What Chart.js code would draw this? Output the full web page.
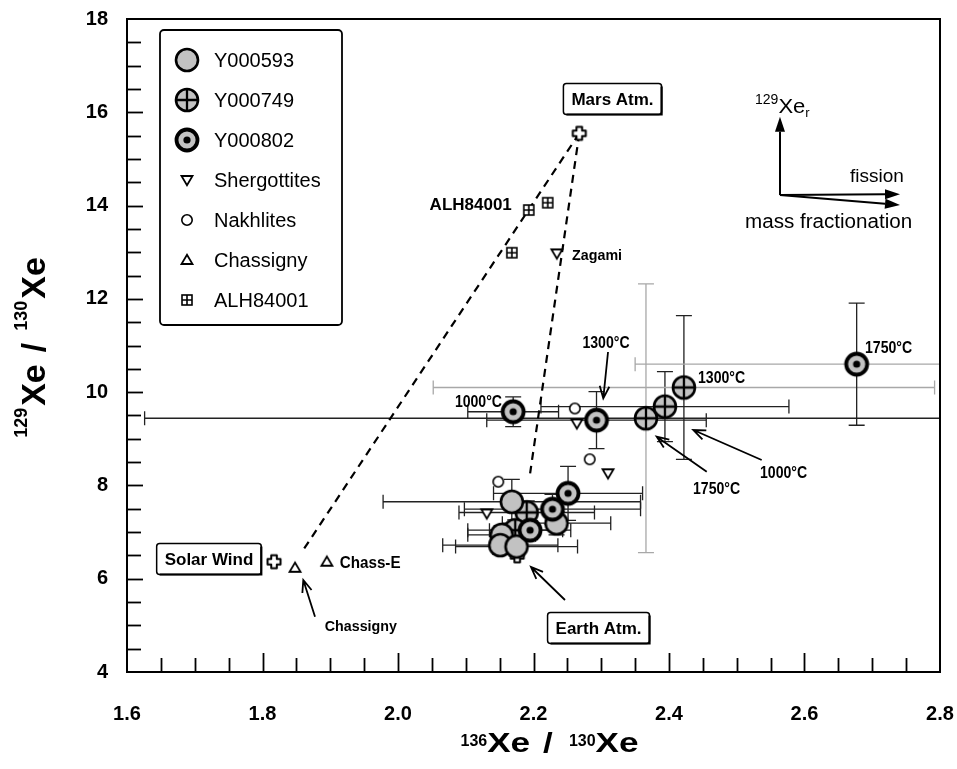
<!DOCTYPE html>
<html><head><meta charset="utf-8">
<script src="https://cdn.jsdelivr.net/npm/chart.js@4.4.1/dist/chart.umd.min.js"></script>
<style>html,body{margin:0;padding:0;background:#fff}canvas{display:block}</style>
</head><body>
<canvas id="c" width="957" height="769"></canvas>
<script>
// ---------------- data ----------------
const xTickLabels = ['1.6','1.8','2.0','2.2','2.4','2.6','2.8'];
const yTickLabels = ['4','6','8','10','12','14','16','18'];

const y000593X    = [2.168, 2.234, 2.153, 2.151, 2.175];
const y000593Y    = [7.65, 7.19, 6.94, 6.72, 6.69];
const y000593XErr = [0.19, 0.08, 0.05, 0.085, 0.09];
const y000593YErr = [0.48, 0.25, 0.20, 0.20, 0.20];

const y000749X    = [2.366, 2.394, 2.422, 2.190, 2.173];
const y000749Y    = [9.44, 9.69, 10.10, 7.42, 7.04];
const y000749XErr = [0.74, 0.183, 0.37, 0.10, 0.07];
const y000749YErr = [2.88, 0.75, 1.54, 0.25, 0.22];

const y000802X    = [2.170, 2.293, 2.677, 2.251, 2.228, 2.195];
const y000802Y    = [9.58, 9.40, 10.60, 7.83, 7.49, 7.04];
const y000802XErr = [0.067, 0.162, 0.327, 0.11, 0.13, 0.06];
const y000802YErr = [0.32, 0.61, 1.31, 0.58, 0.32, 0.20];

const shergottitesX = [2.264, 2.310, 2.131, 2.2345];
const shergottitesY = [9.33, 8.26, 7.40, 12.975];
const nakhlitesX = [2.261, 2.283, 2.148];
const nakhlitesY = [9.65, 8.56, 8.08];
const chassignyX = [1.848, 1.895];
const chassignyY = [6.235, 6.364];
const alhX = [2.193, 2.221, 2.168];
const alhY = [13.905, 14.061, 12.989];

const atmNames = ['Mars Atm.', 'Solar Wind', 'Earth Atm.'];
const atmX = [2.2676, 1.817, 2.176];
const atmY = [15.549, 6.364, 6.49];

const mixAX = [2.2676, 1.858];
const mixAY = [15.549, 6.57];
const mixBX = [2.2676, 2.195];
const mixBY = [15.549, 8.26];

// ---------------- annotation layout (data space) ----------------
const atmBoxPos = [[2.3166, 16.285], [1.721, 6.423], [2.296, 4.943]];
const calloutLabels = [
  {text:'ALH84001', x:2.168, y:14.01, align:'right', size:17, sx:1},
  {text:'Zagami', x:2.257, y:12.925, align:'left', size:15, sx:0.95},
  {text:'Chass-E', x:1.914, y:6.33, align:'left', size:16, sx:0.95},
  {text:'Chassigny', x:1.892, y:4.958, align:'left', size:15, sx:0.95},
  {text:'1000°C', x:2.1535, y:9.774, align:'right', size:16, sx:0.88},
  {text:'1300°C', x:2.307, y:11.032, align:'center', size:16, sx:0.88},
  {text:'1300°C', x:2.4428, y:10.297, align:'left', size:16, sx:0.88},
  {text:'1750°C', x:2.6893, y:10.925, align:'left', size:16, sx:0.88},
  {text:'1750°C', x:2.4354, y:7.902, align:'left', size:16, sx:0.88},
  {text:'1000°C', x:2.5343, y:8.245, align:'left', size:16, sx:0.88}
];
const calloutArrows = [
  [1.8775, 5.186, 1.8602, 5.972],
  [2.2465, 5.544, 2.1963, 6.251],
  [2.310, 10.861, 2.303, 9.868],
  [2.4557, 8.294, 2.3818, 9.045],
  [2.5368, 8.545, 2.4359, 9.188]
];
const insetOrigin = [2.5638, 14.227];
const insetTips = [[2.5638, 15.905], [2.741, 14.242], [2.741, 14.012]];

// ---------------- helpers ----------------
const FONT = '"Liberation Sans", Arial, Helvetica, sans-serif';
const fnt = (s, w) => `${w || 'normal'} ${s}px ${FONT}`;
const GRAY = '#c2c2c2';

function mk(w, h, draw) {
  const c = document.createElement('canvas');
  c.width = w; c.height = h;
  const g = c.getContext('2d');
  g.translate(w / 2, h / 2);
  g.strokeStyle = '#000'; g.fillStyle = '#000';
  draw(g);
  return c;
}
const markers = {
  filled: mk(28, 28, g => {
    g.beginPath(); g.arc(0, 0, 11, 0, 2 * Math.PI); g.fillStyle = GRAY; g.fill();
    g.lineWidth = 2.6; g.stroke();
  }),
  crossed: mk(28, 28, g => {
    g.beginPath(); g.arc(0, 0, 11, 0, 2 * Math.PI); g.fillStyle = GRAY; g.fill();
    g.lineWidth = 2.3; g.beginPath();
    g.moveTo(-11, 0); g.lineTo(11, 0); g.moveTo(0, -11); g.lineTo(0, 11); g.stroke();
    g.beginPath(); g.arc(0, 0, 11, 0, 2 * Math.PI); g.lineWidth = 2.6; g.stroke();
  }),
  dotted: mk(28, 28, g => {
    g.beginPath(); g.arc(0, 0, 10.5, 0, 2 * Math.PI); g.fillStyle = GRAY; g.fill();
    g.lineWidth = 3.8; g.stroke();
    g.beginPath(); g.arc(0, 0, 3.6, 0, 2 * Math.PI); g.fillStyle = '#000'; g.fill();
  }),
  triDown: mk(16, 16, g => {
    g.beginPath(); g.moveTo(-5.5, -4); g.lineTo(5.5, -4); g.lineTo(0, 5.2); g.closePath();
    g.fillStyle = '#fff'; g.fill(); g.lineWidth = 1.8; g.stroke();
  }),
  circOpen: mk(16, 16, g => {
    g.beginPath(); g.arc(0, 0, 5.2, 0, 2 * Math.PI);
    g.fillStyle = '#fff'; g.fill(); g.lineWidth = 1.6; g.stroke();
  }),
  triUp: mk(16, 16, g => {
    g.beginPath(); g.moveTo(-5.5, 4); g.lineTo(5.5, 4); g.lineTo(0, -5.2); g.closePath();
    g.fillStyle = '#fff'; g.fill(); g.lineWidth = 1.8; g.stroke();
  }),
  sqCross: mk(16, 16, g => {
    g.lineWidth = 1.6; g.fillStyle = '#fff';
    g.fillRect(-5, -5, 10, 10); g.strokeRect(-5, -5, 10, 10);
    g.beginPath(); g.moveTo(-5, 0); g.lineTo(5, 0); g.moveTo(0, -5); g.lineTo(0, 5); g.stroke();
  }),
  plusOpen: mk(20, 20, g => {
    const a = 6.5, b = 2.8;
    g.beginPath();
    g.moveTo(-b, -a); g.lineTo(b, -a); g.lineTo(b, -b); g.lineTo(a, -b); g.lineTo(a, b);
    g.lineTo(b, b); g.lineTo(b, a); g.lineTo(-b, a); g.lineTo(-b, b); g.lineTo(-a, b);
    g.lineTo(-a, -b); g.lineTo(-b, -b); g.closePath();
    g.fillStyle = '#fff'; g.fill(); g.lineWidth = 2; g.lineJoin = 'round'; g.stroke();
  })
};

function pts(X, Y, XE, YE) {
  return X.map((x, i) => ({x, y: Y[i], xe: XE ? XE[i] : 0, ye: YE ? YE[i] : 0}));
}
function labelFor(v, labels) {
  const l = labels.find(s => Math.abs(parseFloat(s) - v) < 1e-6);
  return l === undefined ? '' : l;
}
function sText(ctx, t, px, py, size, weight, align, sx, baseline) {
  ctx.save();
  ctx.translate(px, py); ctx.scale(sx || 1, 1);
  ctx.font = fnt(size, weight);
  ctx.textAlign = align || 'left';
  ctx.textBaseline = baseline || 'middle';
  ctx.fillStyle = '#000';
  ctx.fillText(t, 0, 0);
  ctx.restore();
}
function richWidth(ctx, parts) {
  let w = 0;
  parts.forEach(p => {
    if (p.gap) { w += p.gap; return; }
    ctx.font = fnt(p.size, p.weight || 'bold');
    w += ctx.measureText(p.t).width * (p.sx || 1);
  });
  return w;
}
function drawRich(ctx, parts, x0, y0) {
  let x = x0;
  parts.forEach(p => {
    if (p.gap) { x += p.gap; return; }
    ctx.save();
    ctx.font = fnt(p.size, p.weight || 'bold');
    const w = ctx.measureText(p.t).width * (p.sx || 1);
    ctx.translate(x, y0 + (p.dy || 0)); ctx.scale(p.sx || 1, 1);
    ctx.textAlign = 'left'; ctx.textBaseline = 'alphabetic'; ctx.fillStyle = '#000';
    ctx.fillText(p.t, 0, 0);
    ctx.restore();
    x += w;
  });
}
function arrowV(ctx, x1, y1, x2, y2, len, ang) {
  const a = Math.atan2(y2 - y1, x2 - x1);
  ctx.beginPath(); ctx.moveTo(x1, y1); ctx.lineTo(x2, y2);
  ctx.moveTo(x2 - len * Math.cos(a - ang), y2 - len * Math.sin(a - ang)); ctx.lineTo(x2, y2);
  ctx.lineTo(x2 - len * Math.cos(a + ang), y2 - len * Math.sin(a + ang));
  ctx.stroke();
}
function arrowFilled(ctx, x1, y1, x2, y2, len, hw) {
  const a = Math.atan2(y2 - y1, x2 - x1);
  const bx = x2 - len * Math.cos(a), by = y2 - len * Math.sin(a);
  ctx.beginPath(); ctx.moveTo(x1, y1); ctx.lineTo(bx, by); ctx.stroke();
  ctx.beginPath(); ctx.moveTo(x2, y2);
  ctx.lineTo(bx + hw * Math.sin(a), by - hw * Math.cos(a));
  ctx.lineTo(bx - hw * Math.sin(a), by + hw * Math.cos(a));
  ctx.closePath(); ctx.fill();
}

// ---------------- plugins ----------------
const errorBarPlugin = {
  id: 'errorBars',
  beforeDatasetsDraw(chart) {
    const {ctx, chartArea: a, scales: {x, y}} = chart;
    ctx.save();
    ctx.beginPath(); ctx.rect(a.left, a.top, a.right - a.left, a.bottom - a.top); ctx.clip();
    ctx.lineWidth = 1.3;
    chart.data.datasets.forEach(ds => {
      if (!ds.errorBars) return;
      ds.data.forEach(p => {
        const px = x.getPixelForValue(p.x), py = y.getPixelForValue(p.y);
        if (p.xe) {
          const l = x.getPixelForValue(p.x - p.xe), r = x.getPixelForValue(p.x + p.xe);
          ctx.strokeStyle = (p.xe > 0.2 && p.xe < 0.5) ? '#a8a8a8' : '#222';
          ctx.beginPath(); ctx.moveTo(l, py); ctx.lineTo(r, py);
          ctx.moveTo(l, py - 7); ctx.lineTo(l, py + 7);
          ctx.moveTo(r, py - 7); ctx.lineTo(r, py + 7); ctx.stroke();
        }
        if (p.ye) {
          const t = y.getPixelForValue(p.y + p.ye), b = y.getPixelForValue(p.y - p.ye);
          ctx.strokeStyle = p.ye > 2 ? '#a8a8a8' : '#222';
          ctx.beginPath(); ctx.moveTo(px, t); ctx.lineTo(px, b);
          ctx.moveTo(px - 8, t); ctx.lineTo(px + 8, t);
          ctx.moveTo(px - 8, b); ctx.lineTo(px + 8, b); ctx.stroke();
        }
      });
    });
    ctx.restore();
  }
};

const decorPlugin = {
  id: 'decor',
  afterDraw(chart) {
    const {ctx, chartArea: a, scales: {x, y}} = chart;
    const X = v => x.getPixelForValue(v), Y = v => y.getPixelForValue(v);
    ctx.save();
    ctx.strokeStyle = '#000'; ctx.fillStyle = '#000';

    // inward ticks
    ctx.lineWidth = 1.8;
    x.ticks.forEach(t => {
      const v = t.value;
      if (v <= x.min + 1e-9 || v >= x.max - 1e-9) return;
      const px = Math.round(X(v)) + 0.5;
      const len = labelFor(v, xTickLabels) ? 19 : 14;
      ctx.beginPath(); ctx.moveTo(px, a.bottom); ctx.lineTo(px, a.bottom - len); ctx.stroke();
    });
    y.ticks.forEach(t => {
      const v = t.value;
      if (v <= y.min + 1e-9 || v >= y.max - 1e-9) return;
      const py = Math.round(Y(v)) + 0.5;
      const len = labelFor(v, yTickLabels) ? 16 : 14;
      ctx.beginPath(); ctx.moveTo(a.left, py); ctx.lineTo(a.left + len, py); ctx.stroke();
    });
    // frame
    ctx.lineWidth = 2;
    ctx.strokeRect(a.left, a.top, a.right - a.left, a.bottom - a.top);

    // boxed atmosphere labels
    atmNames.forEach((name, i) => {
      const cx = X(atmBoxPos[i][0]), cy = Y(atmBoxPos[i][1]);
      ctx.font = fnt(17, 'bold');
      const w = ctx.measureText(name).width + 16, h = 31;
      ctx.lineWidth = 1.5;
      ctx.beginPath(); ctx.roundRect(cx - w / 2, cy - h / 2, w, h, 3); ctx.stroke();
      ctx.lineWidth = 2.2;
      ctx.beginPath(); ctx.moveTo(cx - w / 2 + 3, cy + h / 2); ctx.lineTo(cx + w / 2, cy + h / 2);
      ctx.lineTo(cx + w / 2, cy - h / 2 + 3); ctx.stroke();
      sText(ctx, name, cx, cy + 1, 17, 'bold', 'center', 1);
    });

    // callout labels and arrows
    calloutLabels.forEach(l => sText(ctx, l.text, X(l.x), Y(l.y), l.size, 'bold', l.align, l.sx));
    ctx.lineWidth = 1.8;
    calloutArrows.forEach(r => arrowV(ctx, X(r[0]), Y(r[1]), X(r[2]), Y(r[3]), 13, 0.38));

    // inset arrows
    ctx.lineWidth = 2;
    const ox = X(insetOrigin[0]), oy = Y(insetOrigin[1]);
    insetTips.forEach(t => arrowFilled(ctx, ox, oy, X(t[0]), Y(t[1]), 15, 5));
    drawRich(ctx, [{t:'129', size:14, weight:'normal', dy:-9}, {t:'Xe', size:21, weight:'normal', sx:1.05},
                   {t:'r', size:13, weight:'normal', dy:4}], X(2.527), Y(15.985));
    sText(ctx, 'fission', X(2.6672), Y(14.512), 19, 'normal', 'left', 1, 'alphabetic');
    sText(ctx, 'mass fractionation', X(2.5122), Y(13.519), 20, 'normal', 'left', 1.03, 'alphabetic');

    // legend
    const lx = a.left + 33, ly = a.top + 11, lw = 182, lh = 295;
    ctx.lineWidth = 1.8;
    ctx.beginPath(); ctx.roundRect(lx, ly, lw, lh, 4); ctx.stroke();
    chart.data.datasets.filter(d => d.inLegend).forEach((d, i) => {
      const cy = ly + 30 + i * 40;
      const img = d.pointStyle;
      ctx.drawImage(img, lx + 27 - img.width / 2, cy - img.height / 2);
      sText(ctx, d.label, lx + 54, cy + 1, 20, 'normal', 'left', 1);
    });

    // axis titles
    const xt = [{t:'136', size:16, dy:-6}, {t:'Xe', size:27, sx:1.3}, {gap:13},
                {t:'/', size:27, sx:1.3}, {gap:16}, {t:'130', size:16, dy:-6}, {t:'Xe', size:27, sx:1.3}];
    drawRich(ctx, xt, (a.left + a.right) / 2 + 16 - richWidth(ctx, xt) / 2, 752);
    const yt = [{t:'129', size:18, dy:-18}, {gap:2}, {t:'Xe', size:34}, {gap:12}, {t:'/', size:34},
                {gap:12}, {t:'130', size:18, dy:-18}, {gap:2}, {t:'Xe', size:34}];
    ctx.save();
    ctx.translate(45, (a.top + a.bottom) / 2 + 2);
    ctx.rotate(-Math.PI / 2);
    drawRich(ctx, yt, -richWidth(ctx, yt) / 2, 0);
    ctx.restore();

    ctx.restore();
  }
};

// ---------------- chart ----------------
const pointDs = (label, data, style, order, err, inLegend) => ({
  label, data, pointStyle: style, pointRadius: 6, showLine: false,
  order, errorBars: err, inLegend
});
const lineDs = (X, Y) => ({
  label: 'mix', data: pts(X, Y), showLine: true, pointRadius: 0,
  borderColor: '#000', borderWidth: 2.2, borderDash: [8, 6], order: 20, inLegend: false
});

new Chart(document.getElementById('c'), {
  type: 'scatter',
  data: {
    datasets: [
      pointDs('Y000593', pts(y000593X, y000593Y, y000593XErr, y000593YErr), markers.filled, 2, true, true),
      pointDs('Y000749', pts(y000749X, y000749Y, y000749XErr, y000749YErr), markers.crossed, 3, true, true),
      pointDs('Y000802', pts(y000802X, y000802Y, y000802XErr, y000802YErr), markers.dotted, 1, true, true),
      pointDs('Shergottites', pts(shergottitesX, shergottitesY), markers.triDown, 5, false, true),
      pointDs('Nakhlites', pts(nakhlitesX, nakhlitesY), markers.circOpen, 5, false, true),
      pointDs('Chassigny', pts(chassignyX, chassignyY), markers.triUp, 5, false, true),
      pointDs('ALH84001', pts(alhX, alhY), markers.sqCross, 5, false, true),
      pointDs('Atmospheres', pts(atmX, atmY), markers.plusOpen, 6, false, false),
      lineDs(mixAX, mixAY),
      lineDs(mixBX, mixBY)
    ]
  },
  options: {
    responsive: false, animation: false, devicePixelRatio: 1, events: [],
    layout: {padding: {left: 0, top: 19, right: 17, bottom: 0}},
    plugins: {legend: {display: false}, tooltip: {enabled: false}},
    scales: {
      x: {
        type: 'linear', min: 1.6, max: 2.8,
        afterFit: s => { s.height = 97; s.paddingLeft = 0; s.paddingRight = 0; },
        grid: {display: false, drawTicks: false}, border: {display: false},
        ticks: {stepSize: 0.05, autoSkip: false, maxRotation: 0, padding: 30, color: '#000',
                font: {family: FONT, size: 20, weight: 'bold'},
                callback: v => labelFor(v, xTickLabels)}
      },
      y: {
        type: 'linear', min: 4, max: 18,
        afterFit: s => { s.width = 127; s.paddingTop = 0; s.paddingBottom = 0; },
        grid: {display: false, drawTicks: false}, border: {display: false},
        ticks: {stepSize: 0.5, autoSkip: false, padding: 19, color: '#000',
                font: {family: FONT, size: 20, weight: 'bold'},
                callback: v => labelFor(v, yTickLabels)}
      }
    }
  },
  plugins: [errorBarPlugin, decorPlugin]
});
</script>
</body></html>
